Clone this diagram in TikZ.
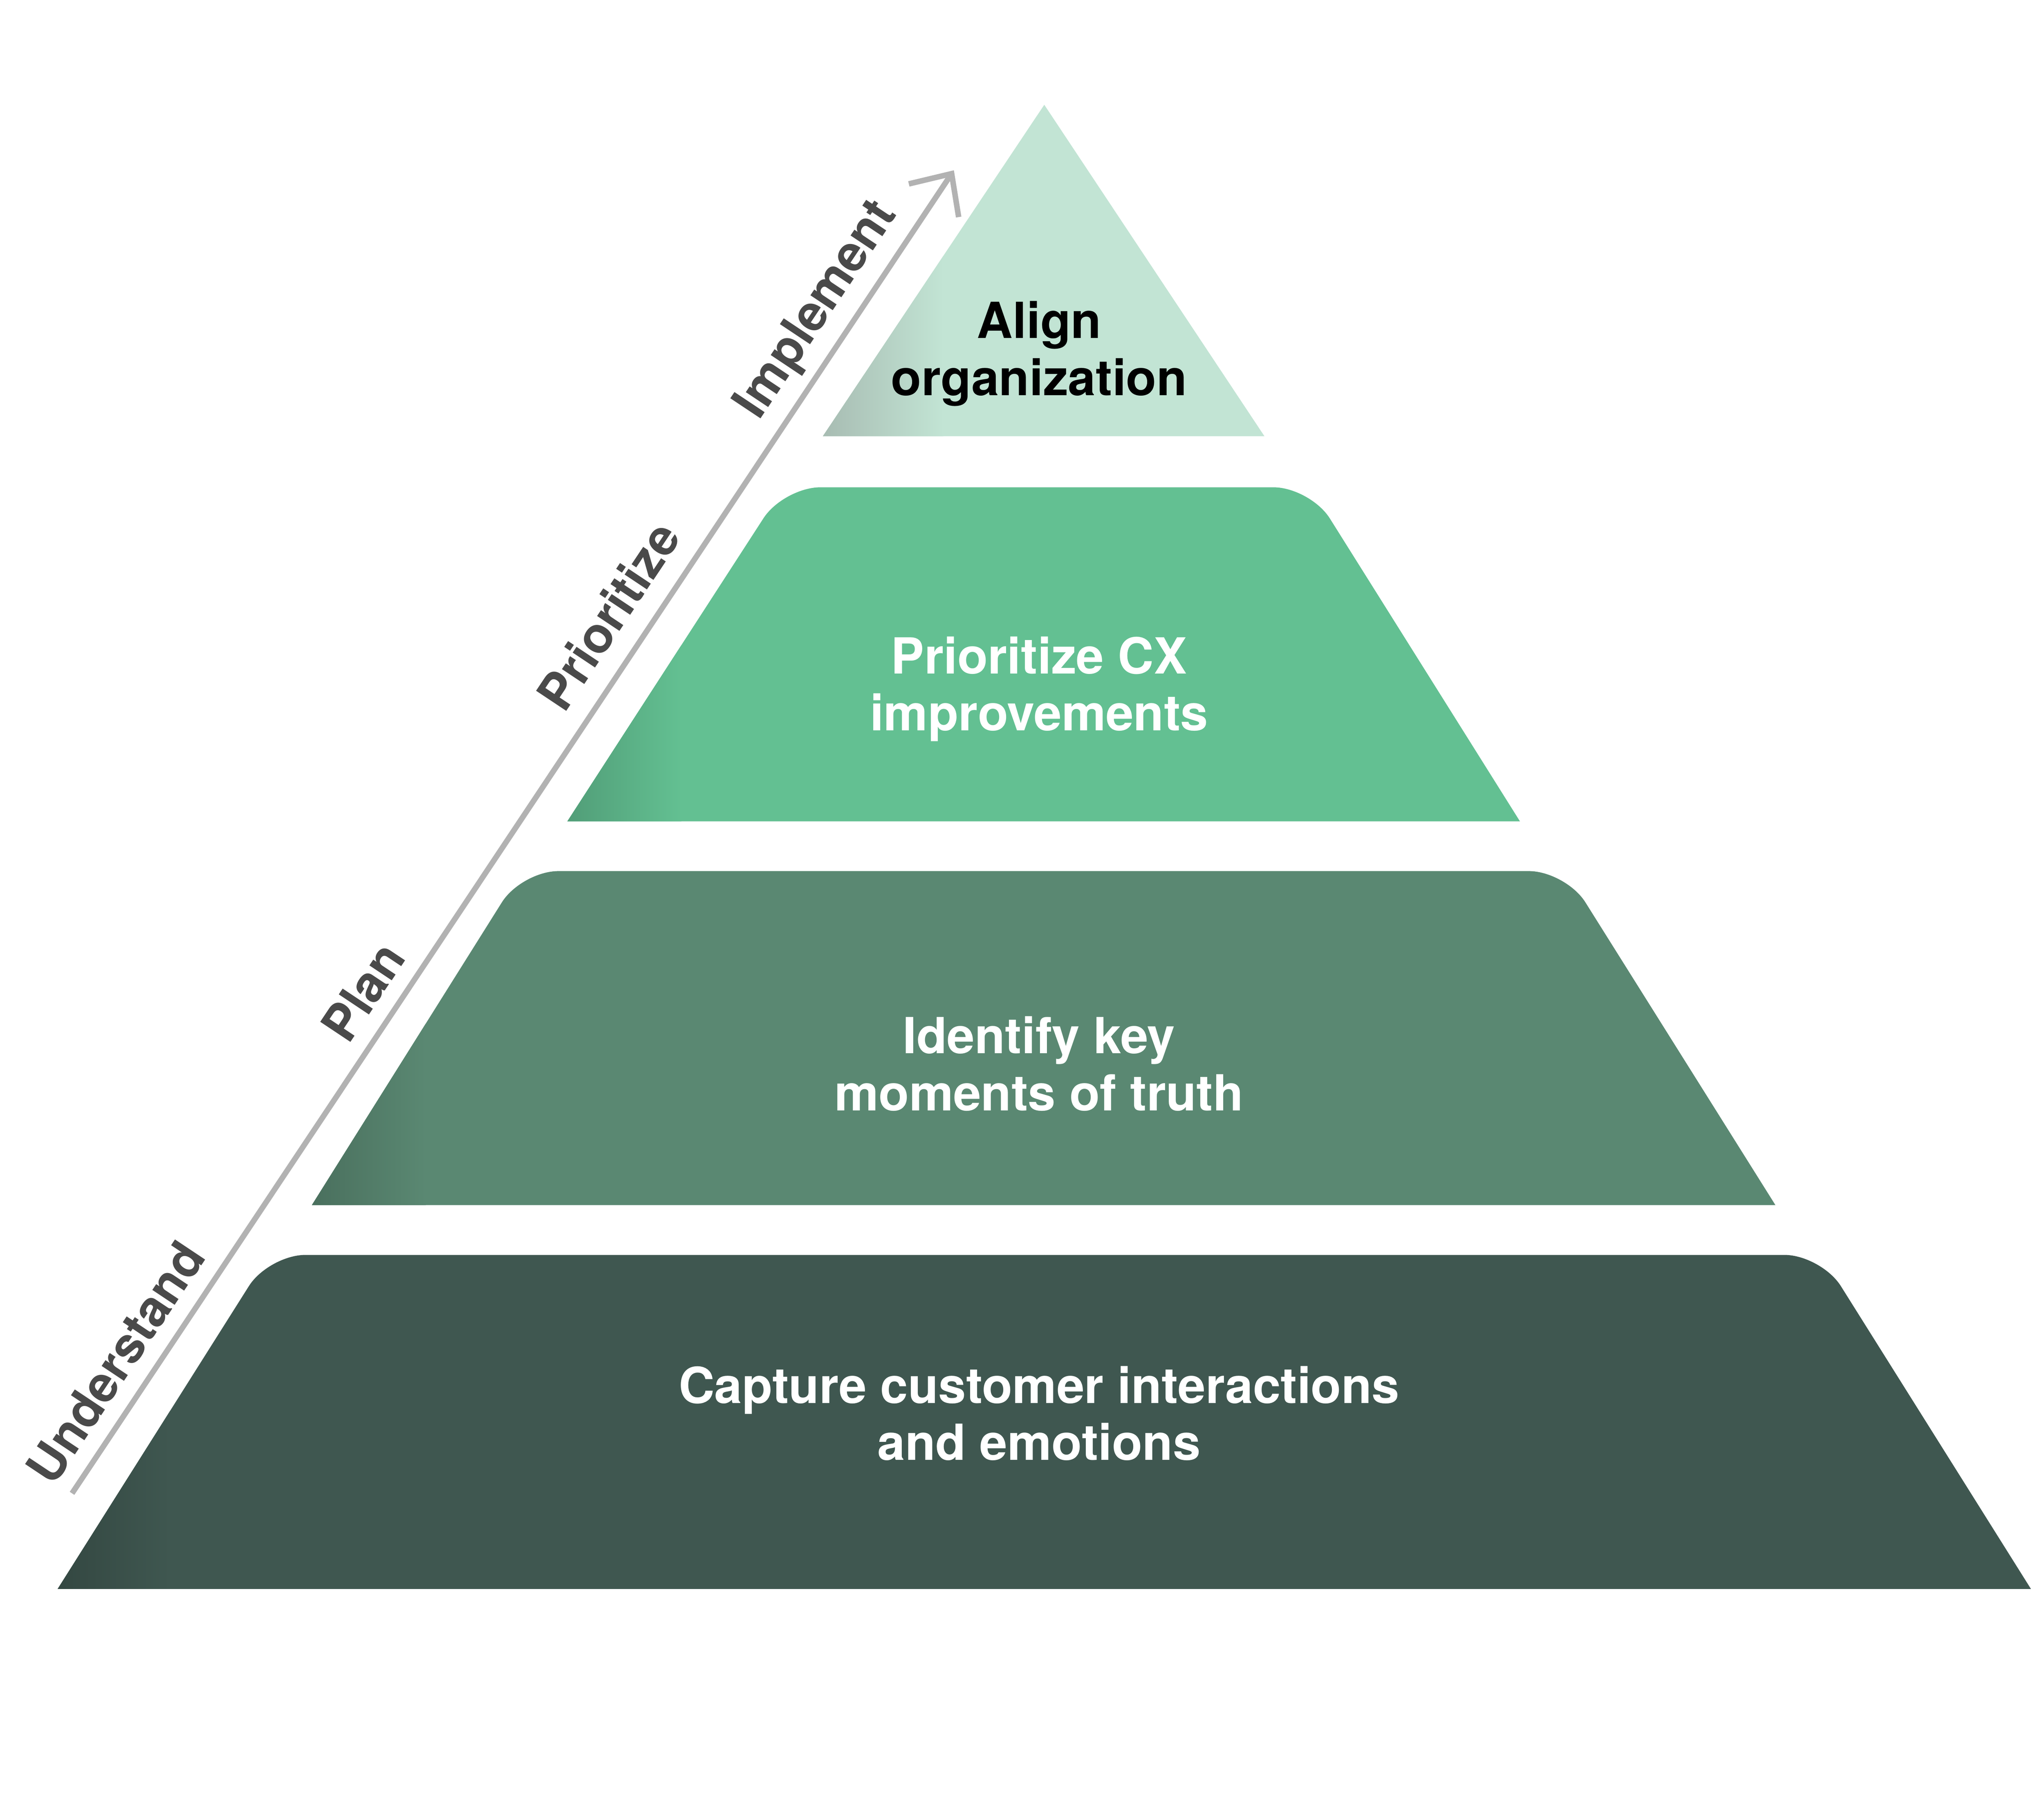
\documentclass[tikz,border=0pt]{standalone}
\usepackage{fontspec}
\setmainfont{TeX Gyre Heros}
\usetikzlibrary{arrows.meta}
\definecolor{TierA}{HTML}{C2E4D4}
\definecolor{TierB}{HTML}{63C092}
\definecolor{TierC}{HTML}{5A8872}
\definecolor{TierD}{HTML}{3F5750}
\definecolor{Step}{HTML}{4A4A4A}
\definecolor{Rail}{HTML}{B2B2B2}
\begin{document}
\begin{tikzpicture}[x=0.1mm, y=-0.1mm,
    tiertext/.style={align=center, font=\fontsize{10.8}{12.4}\selectfont\bfseries},
    steptext/.style={font=\fontsize{10.8}{12.4}\selectfont\bfseries, color=Step, rotate=56.3}]

  \useasboundingbox[fill=white] (0,0) rectangle (1560,1370);

  % Tiers
  \fill[TierA] (628,333) -- (797,80) -- (965,333) -- cycle;
  \begin{scope}
    \clip (628,333) -- (797,80) -- (965,333) -- cycle;
    \shade[left color=TierA!60!gray, right color=TierA] (628,80) rectangle (720,333);
  \end{scope}
  \fill[TierB] (433,627) [rounded corners=8pt] -- (598,372) -- (1000,372) [sharp corners] -- (1160,627) -- cycle;
  \begin{scope}
    \clip (433,627) -- (598,372) -- (1000,372) -- (1160,627) -- cycle;
    \shade[left color=TierB!82!black, right color=TierB] (433,372) rectangle (520,627);
  \end{scope}
  \fill[TierC] (238,920) [rounded corners=8pt] -- (398,665) -- (1195,665) [sharp corners] -- (1355,920) -- cycle;
  \begin{scope}
    \clip (238,920) -- (398,665) -- (1195,665) -- (1355,920) -- cycle;
    \shade[left color=TierC!82!black, right color=TierC] (238,665) rectangle (325,920);
  \end{scope}
  \fill[TierD] (44,1213) [rounded corners=8pt] -- (205,958) -- (1390,958) [sharp corners] -- (1550,1213) -- cycle;
  \begin{scope}
    \clip (44,1213) -- (205,958) -- (1390,958) -- (1550,1213) -- cycle;
    \shade[left color=TierD!82!black, right color=TierD] (44,958) rectangle (130,1213);
  \end{scope}

  % Names
  \node[tiertext, color=black] (align) at (793,270) {Align\\organization};
  \node[tiertext, color=white] (prior) at (793,526) {Prioritize CX\\improvements};
  \node[tiertext, color=white] (ident) at (793,812) {Identify key\\moments of truth};
  \node[tiertext, color=white] (capt) at (793,1079) {Capture customer interactions\\and emotions};

  % Steps
  \coordinate (start) at (55,1140);
  \coordinate (stop) at (728,130);
  \draw[Rail, line width=1.2pt, -{Straight Barb[length=7pt, width=13pt]}] (start) -- (stop);
  \node[steptext] (underst) at (88,1040) {Understand};
  \node[steptext] (plan) at (277,757) {Plan};
  \node[steptext] (priorstep) at (464,470) {Prioritize};
  \node[steptext] (impl) at (624,237) {Implement};

\end{tikzpicture}
\end{document}
